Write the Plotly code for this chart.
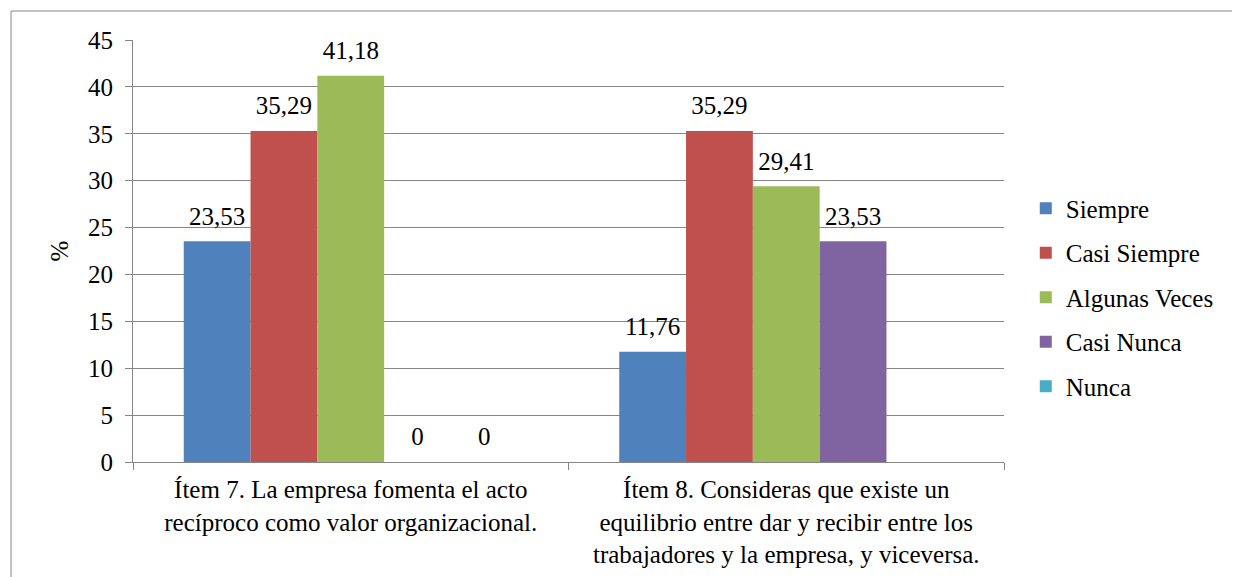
import plotly.graph_objects as go

# Datos
categorias = [
    "Ítem 7. La empresa fomenta el acto<br>recíproco como valor organizacional.",
    "Ítem 8. Consideras que existe un<br>equilibrio entre dar y recibir entre los<br>trabajadores y la empresa, y viceversa.",
]
series = ["Siempre", "Casi Siempre", "Algunas Veces", "Casi Nunca", "Nunca"]
siempre = [23.53, 11.76]
casi_siempre = [35.29, 35.29]
algunas_veces = [41.18, 29.41]
casi_nunca = [0, 23.53]
nunca = [0, 0]
valores = [siempre, casi_siempre, algunas_veces, casi_nunca, nunca]
colores = ["#4F81BD", "#C0504D", "#9BBB59", "#8064A2", "#4BACC6"]

# etiquetas de datos (en el ítem 8 solo aparece un "0")
etiquetas = [
    ["23,53", "11,76"],
    ["35,29", "35,29"],
    ["41,18", "29,41"],
    ["0", "23,53"],
    ["0", ""],
]

fuente = "Liberation Serif"
tam = 25
letra = dict(family=fuente, size=tam, color="black")
hueco = 0.233

fig = go.Figure()
for nombre, vals, col in zip(series, valores, colores):
    fig.add_trace(go.Bar(
        x=categorias, y=vals, name=nombre,
        marker=dict(color=col, line=dict(width=0)),
        legendgroup=nombre,
    ))

# etiquetas como texto de scatter agrupado, para dejar más aire sobre la barra
for nombre, vals, txt in zip(series, valores, etiquetas):
    fig.add_trace(go.Scatter(
        x=categorias, y=vals, mode="markers+text",
        text=txt, textposition="top center", textfont=letra,
        marker=dict(size=15, opacity=0),
        showlegend=False, hoverinfo="skip", cliponaxis=False,
    ))

fig.update_layout(
    template="none",
    width=1240,
    height=577,
    barmode="group",
    bargap=hueco,
    bargroupgap=0,
    scattermode="group",
    scattergap=hueco,
    plot_bgcolor="white",
    paper_bgcolor="white",
    font=letra,
    margin=dict(l=125, r=244, t=32, b=123, pad=0),
    legend=dict(
        x=1.025, y=0.39, xanchor="left", yanchor="middle",
        font=letra,
        tracegroupgap=9,
        itemwidth=30,
    ),
)

fig.update_xaxes(
    showline=True, linecolor="#868686", linewidth=1,
    ticks="outside", tickson="boundaries", ticklen=7, tickcolor="#868686",
    ticklabelstandoff=5,
    showgrid=False,
    tickfont=letra,
)
fig.update_yaxes(
    range=[0, 45], dtick=5,
    showline=True, linecolor="#868686", linewidth=1,
    ticks="outside", ticklen=7, tickcolor="#868686",
    ticklabelstandoff=7,
    showgrid=True, gridcolor="#868686", gridwidth=1,
    zeroline=False,
    tickfont=letra,
    title=dict(text="%", font=letra, standoff=12),
)

# marco del gráfico
fig.add_shape(
    type="rect", xref="paper", yref="paper",
    x0=(11 - 133) / 871, x1=(1250 - 133) / 871,
    y0=(462 - 590) / 422, y1=(462 - 11) / 422,
    line=dict(color="#868686", width=1), fillcolor="rgba(0,0,0,0)",
    layer="below",
)

fig.write_html("out.html")
